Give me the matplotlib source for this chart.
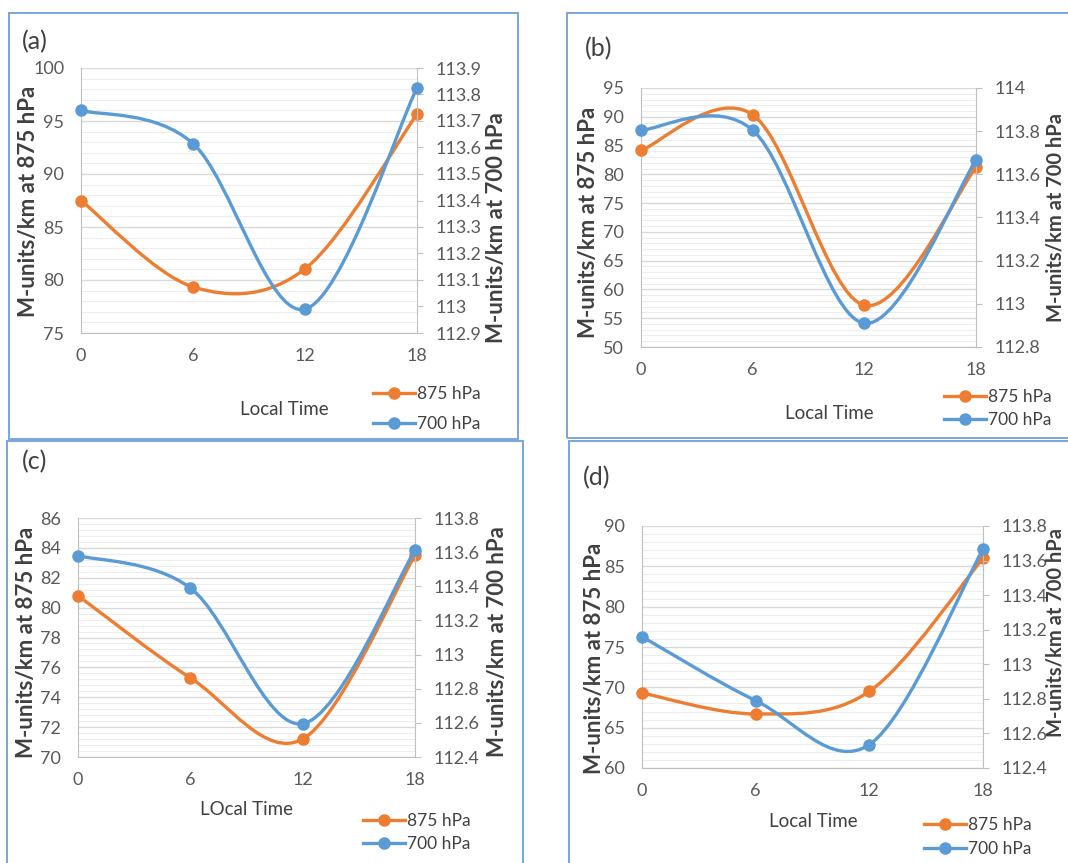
import numpy as np
import matplotlib
matplotlib.use("Agg")
import matplotlib.pyplot as plt
from matplotlib.path import Path
from matplotlib.patches import PathPatch, Rectangle
from matplotlib.lines import Line2D
from matplotlib.ticker import MultipleLocator, FuncFormatter

plt.rcParams['font.family'] = ['Lato', 'DejaVu Sans']

# data (Local Time vs M-units/km)
hours = [0, 6, 12, 18]
a_875 = [87.5, 79.35, 81.05, 95.65]
a_700 = [113.74, 113.615, 112.99, 113.825]
b_875 = [84.15, 90.35, 57.25, 81.2]
b_700 = [113.805, 113.805, 112.91, 113.665]
c_875 = [80.8, 75.3, 71.2, 83.5]
c_700 = [113.58, 113.39, 112.595, 113.61]
d_875 = [69.3, 66.7, 69.5, 86.0]
d_700 = [113.16, 112.79, 112.535, 113.665]

ORANGE = '#ED7D31'
BLUE = '#5B9BD5'
TICK_C = '#595959'
LABEL_C = '#404040'
W, H = 1068, 863


def fx(px):
    return px / W


def fy(py):
    return 1 - py / H


def smooth_path(xs, ys):
    # Excel-like smoothed line: cubic bezier segments through the points
    pts = np.column_stack([xs, ys]).astype(float)
    n = len(pts)
    verts = [pts[0]]
    codes = [Path.MOVETO]
    for i in range(n - 1):
        p0 = pts[max(i - 1, 0)]
        p1 = pts[i]
        p2 = pts[i + 1]
        p3 = pts[min(i + 2, n - 1)]
        verts += [p1 + (p2 - p0) / 6, p2 - (p3 - p1) / 6, p2]
        codes += [Path.CURVE4] * 3
    return Path(verts, codes)


def fmt(v, pos):
    s = f"{v:.1f}"
    return s[:-2] if s.endswith('.0') else s


panels = [
    dict(tag='(a)', y1=a_875, y2=a_700, box=(9, 13, 518, 439), area=(81, 68, 417, 333),
         lim1=(75, 100, 5), lim2=(112.9, 113.9, 0.1), xlabel='Local Time',
         tagpos=(22, 42), xlpos=(284, 409), yl1=(29, 201), yl2=(496, 228, 16), leg=(373, 394, 30)),
    dict(tag='(b)', y1=b_875, y2=b_700, box=(567, 13, 1100, 438), area=(641, 88, 976, 347),
         lim1=(50, 95, 5), lim2=(112.8, 114, 0.2), xlabel='Local Time',
         tagpos=(585, 49), xlpos=(829, 413), yl1=(588, 222), yl2=(1056, 217, 14.5), leg=(944, 397, 23)),
    dict(tag='(c)', y1=c_875, y2=c_700, box=(7, 441, 523, 900), area=(78, 518, 415, 757),
         lim1=(70, 86, 2), lim2=(112.4, 113.8, 0.2), xlabel='LOcal Time',
         tagpos=(22, 462), xlpos=(247, 809), yl1=(27, 642), yl2=(498, 642, 16), leg=(363, 821, 23)),
    dict(tag='(d)', y1=d_875, y2=d_700, box=(569, 441, 1100, 900), area=(642, 526, 983, 768),
         lim1=(60, 90, 5), lim2=(112.4, 113.8, 0.2), xlabel='Local Time',
         tagpos=(583, 478), xlpos=(813, 821), yl1=(595, 658), yl2=(1056, 632, 14.5), leg=(924, 825, 24)),
]

fig = plt.figure(figsize=(W / 100, H / 100), dpi=100)
fig.patch.set_facecolor('white')

for p in panels:
    bx0, by0, bx1, by1 = p['box']
    fig.add_artist(Rectangle((fx(bx0), fy(by1)), (bx1 - bx0) / W, (by1 - by0) / H,
                             transform=fig.transFigure, fill=False,
                             edgecolor='#6F9ED6', linewidth=1.3))

    l, t, r, b = p['area']
    ax = fig.add_axes([fx(l), fy(b), (r - l) / W, (b - t) / H])
    ax2 = ax.twinx()

    lo1, hi1, st1 = p['lim1']
    lo2, hi2, st2 = p['lim2']
    ax.set_xlim(0, 18)
    ax.set_ylim(lo1, hi1)
    ax2.set_ylim(lo2, hi2)
    ax.set_xticks(hours)
    ax.yaxis.set_major_locator(MultipleLocator(st1))
    ax.yaxis.set_minor_locator(MultipleLocator(st1 / 5))
    ax2.yaxis.set_major_locator(MultipleLocator(st2))
    ax2.yaxis.set_major_formatter(FuncFormatter(fmt))

    ax.grid(True, which='major', axis='y', color='#D9D9D9', linewidth=1.0)
    ax.grid(True, which='minor', axis='y', color='#EDEDED', linewidth=0.8)
    ax.set_axisbelow(True)

    ax.spines['top'].set_visible(False)
    ax2.spines['top'].set_visible(False)
    ax.spines['left'].set_color('#BFBFBF')
    ax.spines['bottom'].set_color('#BFBFBF')
    ax.spines['right'].set_visible(False)
    ax2.spines['left'].set_visible(False)
    ax2.spines['bottom'].set_visible(False)
    ax2.spines['right'].set_color('#BFBFBF')

    ax.tick_params(axis='y', which='both', length=0, pad=12, labelsize=13, labelcolor=TICK_C)
    ax.tick_params(axis='x', length=0, pad=11, labelsize=13, labelcolor=TICK_C)
    ax2.tick_params(axis='y', length=4, color='#BFBFBF', pad=9, labelsize=13, labelcolor=TICK_C)

    ax.add_patch(PathPatch(smooth_path(hours, p['y1']), facecolor='none', edgecolor=ORANGE,
                           linewidth=2.4, capstyle='round', zorder=3))
    ax.plot(hours, p['y1'], 'o', color=ORANGE, markersize=8, zorder=4, clip_on=False)
    ax2.add_patch(PathPatch(smooth_path(hours, p['y2']), facecolor='none', edgecolor=BLUE,
                            linewidth=2.4, capstyle='round', zorder=3))
    ax2.plot(hours, p['y2'], 'o', color=BLUE, markersize=8, zorder=4, clip_on=False)

    fig.text(fx(p['tagpos'][0]), fy(p['tagpos'][1]), p['tag'], fontsize=18,
             color=LABEL_C, ha='left', va='center')
    fig.text(fx(p['xlpos'][0]), fy(p['xlpos'][1]), p['xlabel'], fontsize=13.5,
             color=LABEL_C, ha='center', va='center')
    fig.text(fx(p['yl1'][0]), fy(p['yl1'][1]), 'M-units/km at 875 hPa', fontsize=16,
             fontweight='bold', color=LABEL_C, rotation=90, ha='center', va='center')
    fig.text(fx(p['yl2'][0]), fy(p['yl2'][1]), 'M-units/km at 700 hPa', fontsize=p['yl2'][2],
             fontweight='bold', color=LABEL_C, rotation=90, ha='center', va='center')

    lx, ly, gap = p['leg']
    handles = [Line2D([], [], color=ORANGE, lw=2.4, marker='o', markersize=8),
               Line2D([], [], color=BLUE, lw=2.4, marker='o', markersize=8)]
    fs = 12.5
    fpx = fs * 100 / 72
    ax2.legend(handles, ['875 hPa', '700 hPa'], loc='upper left',
               bbox_to_anchor=(fx(lx), fy(ly - fpx * 0.46)), bbox_transform=fig.transFigure,
               frameon=False, fontsize=fs, labelcolor=LABEL_C, handlelength=42 / fpx,
               handletextpad=0.1, borderpad=0, borderaxespad=0,
               labelspacing=(gap - fpx * 0.92) / fpx)

fig.savefig('out.png', dpi=100)
